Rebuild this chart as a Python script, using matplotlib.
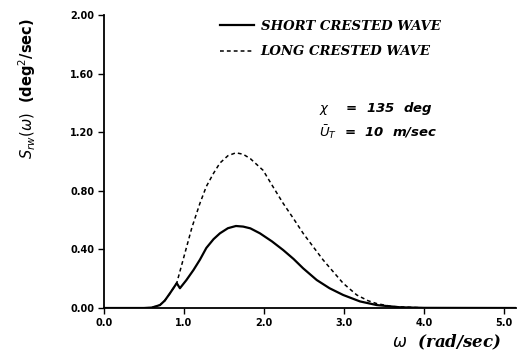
import matplotlib.pyplot as plt

# omega (rad/sec) and spectra (deg^2/sec)
omega_short = [0.0, 0.5, 0.6, 0.7, 0.76, 0.825, 0.88, 0.91, 0.95, 1.03, 1.12, 1.2, 1.28,
               1.37, 1.45, 1.55, 1.65, 1.74, 1.83, 1.95, 2.1, 2.24, 2.37, 2.49, 2.66,
               2.82, 2.99, 3.2, 3.41, 3.7, 4.0, 5.15]
s_short = [0.0, 0.0, 0.003, 0.02, 0.05, 0.10, 0.145, 0.17, 0.135, 0.19, 0.26, 0.33, 0.41,
           0.47, 0.51, 0.545, 0.56, 0.556, 0.544, 0.51, 0.455, 0.396, 0.335, 0.271, 0.191,
           0.135, 0.089, 0.045, 0.02, 0.005, 0.001, 0.0]

omega_long = [0.0, 0.5, 0.6, 0.7, 0.76, 0.825, 0.88, 0.91, 1.0, 1.1, 1.2, 1.28, 1.37,
              1.45, 1.55, 1.65, 1.74, 1.83, 1.99, 2.1, 2.24, 2.37, 2.49, 2.62, 2.74,
              2.87, 2.99, 3.16, 3.3, 3.41, 3.6, 4.0, 5.15]
s_long = [0.0, 0.0, 0.003, 0.02, 0.05, 0.10, 0.145, 0.17, 0.35, 0.55, 0.715, 0.83, 0.92,
          0.99, 1.04, 1.06, 1.05, 1.02, 0.94, 0.84, 0.715, 0.61, 0.51, 0.415, 0.328,
          0.245, 0.169, 0.089, 0.05, 0.03, 0.01, 0.001, 0.0]

xticks = [0, 1, 2, 3, 4, 5]
xtick_labels = ["0.0", "1.0", "2.0", "3.0", "4.0", "5.0"]
yticks = [0.0, 0.4, 0.8, 1.2, 1.6, 2.0]
ytick_labels = ["0.00", "0.40", "0.80", "1.20", "1.60", "2.00"]

fig = plt.figure(figsize=(5.17, 3.52), dpi=100)
ax = fig.add_axes([0.201, 0.125, 0.797, 0.832])

ax.plot(omega_short, s_short, color="black", lw=1.6, label="SHORT CRESTED WAVE")
ax.plot(omega_long, s_long, color="black", lw=1.1, ls=(0, (2.5, 2)), label="LONG CRESTED WAVE")

ax.set_xlim(0, 5.15)
ax.set_ylim(0, 2.0)
ax.spines["top"].set_visible(False)
ax.spines["right"].set_visible(False)
ax.spines["left"].set_linewidth(1.3)
ax.spines["bottom"].set_linewidth(1.3)

ax.set_xticks(xticks)
ax.set_xticklabels(xtick_labels, fontsize=7, fontweight="bold")
ax.set_yticks(yticks)
ax.set_yticklabels(ytick_labels, fontsize=7, fontweight="bold")
ax.tick_params(direction="out", length=4, width=1, pad=3)

ax.text(0.833, -0.116, r"$\omega$  (rad/sec)", transform=ax.transAxes, fontsize=12,
        fontweight="bold", style="italic", family="DejaVu Serif", ha="center", va="center")
ax.set_ylabel(r"$S_{rw}(\omega)$  (deg$^2$/sec)", fontsize=10.5, fontweight="bold")
ax.yaxis.set_label_coords(-0.16, 0.75)

leg = ax.legend(loc="upper left", bbox_to_anchor=(0.252, 1.025), frameon=False,
                handlelength=2.6, handletextpad=0.5, labelspacing=0.95,
                prop={"family": "DejaVu Serif", "weight": "bold", "style": "italic", "size": 9.5})

ax.text(0.522, 0.68, r"$\chi$    =  135  deg", transform=ax.transAxes, fontsize=9.5,
        fontweight="bold", style="italic", va="center")
ax.text(0.522, 0.60, r"$\bar{U}_T$  =  10  m/sec", transform=ax.transAxes, fontsize=9.5,
        fontweight="bold", style="italic", va="center")

fig.savefig("out.png", dpi=100)
